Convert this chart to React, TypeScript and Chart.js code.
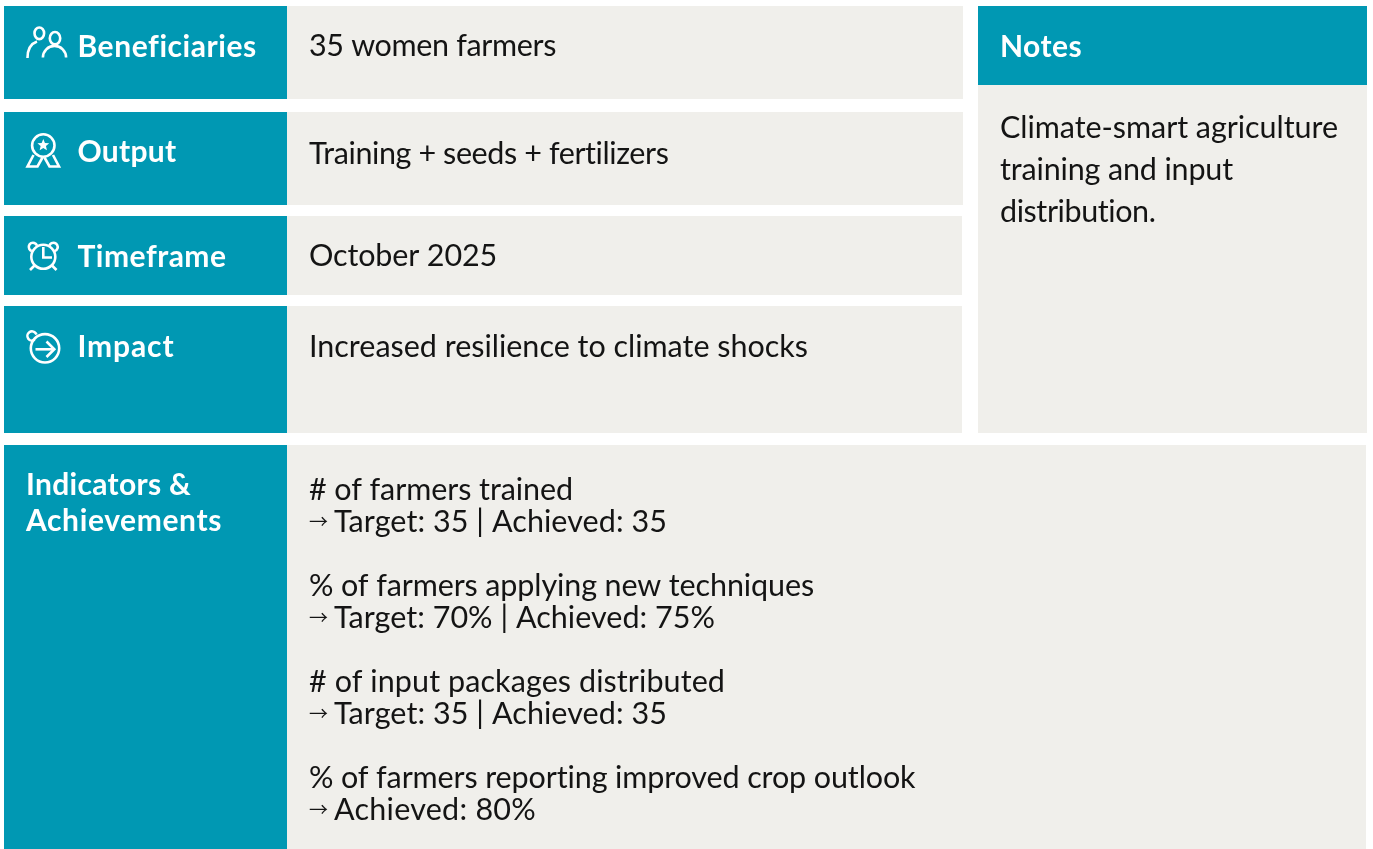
import React, { useEffect, useRef } from "react";
import { Chart, registerables } from "chart.js";

Chart.register(...registerables);

const rowLabels = ["Beneficiaries", "Output", "Timeframe", "Impact"];
const rowValues = [
  "35 women farmers",
  "Training + seeds + fertilizers",
  "October 2025",
  "Increased resilience to climate shocks",
];
const notesTitle = "Notes";
const notesLines = ["Climate-smart agriculture", "training and input", "distribution."];
const indicatorTitle = ["Indicators &", "Achievements"];
const indicatorLines = [
  "# of farmers trained",
  "→ Target: 35 | Achieved: 35",
  "% of farmers applying new techniques",
  "→ Target: 70% | Achieved: 75%",
  "# of input packages distributed",
  "→ Target: 35 | Achieved: 35",
  "% of farmers reporting improved crop outlook",
  "→ Achieved: 80%",
];

// Layout, in page units
const W = 1373;
const H = 849;
const TEAL = "#0098B3";
const GREY = "#F0EFEB";
const INK = "#141414";
const FONT = "Lato";
const HEAD_SIZE = 30;
const BODY_SIZE = 30.5;
const ARROW_SIZE = 19;
const ARROW_GAP = 25;

const panels: [number, number, number, number, string][] = [
  [4, 6, 287, 99, TEAL],
  [287, 6, 963, 99, GREY],
  [4, 112, 287, 205, TEAL],
  [287, 112, 963, 205, GREY],
  [4, 216, 287, 295, TEAL],
  [287, 216, 962, 295, GREY],
  [4, 306, 287, 433, TEAL],
  [287, 306, 962, 433, GREY],
  [978, 6, 1367, 85, TEAL],
  [978, 85, 1367, 433, GREY],
  [4, 445, 287, 849, TEAL],
  [287, 445, 1366, 849, GREY],
];

const labelPos: [number, number, number][] = [
  [77.5, 57, 179],
  [77.5, 162, 99],
  [77.5, 267, 149],
  [77.5, 357, 97],
];
const valuePos: [number, number, number][] = [
  [309, 56, 247],
  [309, 164, 360],
  [309, 266, 188],
  [309, 357, 499],
];
const notesPos: [number, number, number][] = [
  [1000, 138, 338],
  [1000, 180, 233],
  [1000, 222, 156],
];
const indicatorTitlePos: [number, number, number][] = [
  [26, 495, 165],
  [26, 531, 196],
];
const indicatorPos: [number, number, number][] = [
  [309, 500, 264],
  [309, 532, 358],
  [309, 596, 505],
  [309, 628, 406],
  [309, 692, 416],
  [309, 724, 358],
  [309, 788, 607],
  [309, 820, 227],
];

const tablePlugin = {
  id: "table",
  beforeDraw(chart: any) {
    const { ctx, scales } = chart;
    const X = (v: number) => scales.x.getPixelForValue(v);
    const Y = (v: number) => scales.y.getPixelForValue(v);

    panels.forEach(([x0, y0, x1, y1, c]) => {
      ctx.fillStyle = c;
      ctx.fillRect(X(x0), Y(y0), X(x1) - X(x0), Y(y1) - Y(y0));
    });

    const text = (t: string, p: [number, number, number], font: string, color: string) => {
      ctx.save();
      ctx.font = font;
      ctx.fillStyle = color;
      ctx.textBaseline = "alphabetic";
      ctx.letterSpacing = "0px";
      const w = ctx.measureText(t).width;
      ctx.letterSpacing = `${(p[2] - w) / t.length}px`;
      ctx.fillText(t, X(p[0]), Y(p[1]));
      ctx.restore();
    };
    const head = `700 ${HEAD_SIZE}px ${FONT}`;
    const body = `400 ${BODY_SIZE}px ${FONT}`;
    const indicator = (t: string, p: [number, number, number]) => {
      if (t.startsWith("→ ")) {
        ctx.save();
        ctx.font = `400 ${ARROW_SIZE}px "Noto Sans CJK SC"`;
        ctx.fillStyle = INK;
        ctx.textBaseline = "alphabetic";
        ctx.fillText("→", X(p[0]), Y(p[1] - 3));
        ctx.restore();
        text(t.slice(2), [p[0] + ARROW_GAP, p[1], p[2] - ARROW_GAP], body, INK);
      } else {
        text(t, p, body, INK);
      }
    };

    rowLabels.forEach((t, i) => text(t, labelPos[i], head, "#ffffff"));
    rowValues.forEach((t, i) => text(t, valuePos[i], body, INK));
    text(notesTitle, [1000, 57, 82], head, "#ffffff");
    notesLines.forEach((t, i) => text(t, notesPos[i], body, INK));
    indicatorTitle.forEach((t, i) => text(t, indicatorTitlePos[i], head, "#ffffff"));
    indicatorLines.forEach((t, i) => indicator(t, indicatorPos[i]));

    // icons
    ctx.save();
    ctx.strokeStyle = "#ffffff";
    ctx.fillStyle = "#ffffff";
    ctx.lineWidth = 2.6;
    ctx.lineCap = "butt";
    ctx.lineJoin = "miter";
    const circle = (x: number, y: number, r: number) => {
      ctx.beginPath();
      ctx.arc(X(x), Y(y), r, 0, Math.PI * 2);
      ctx.stroke();
    };
    const path = (pts: number[][], close = false) => {
      ctx.beginPath();
      pts.forEach(([x, y], i) => (i ? ctx.lineTo(X(x), Y(y)) : ctx.moveTo(X(x), Y(y))));
      if (close) ctx.closePath();
      ctx.stroke();
    };
    // Beneficiaries
    ctx.beginPath();
    ctx.ellipse(X(39.3), Y(33.3), 4.8, 5.8, 0, 0, Math.PI * 2);
    ctx.stroke();
    ctx.beginPath();
    ctx.ellipse(X(55), Y(38.2), 5.2, 6.2, 0, 0, Math.PI * 2);
    ctx.stroke();
    ctx.beginPath();
    ctx.arc(X(54.5), Y(57.5), 11.6, Math.PI, 0);
    ctx.stroke();
    ctx.beginPath();
    ctx.moveTo(X(27.5), Y(58));
    ctx.bezierCurveTo(X(27.5), Y(50), X(30), Y(44), X(37), Y(41.5));
    ctx.stroke();
    // Output
    circle(43.3, 145.5, 11.2);
    ctx.beginPath();
    for (let i = 0; i < 10; i++) {
      const r = i % 2 ? 2.8 : 6.2;
      const a = -Math.PI / 2 + (i * Math.PI) / 5;
      const px = X(43.3) + r * Math.cos(a);
      const py = Y(145.2) + r * Math.sin(a);
      if (i) ctx.lineTo(px, py);
      else ctx.moveTo(px, py);
    }
    ctx.closePath();
    ctx.fill();
    path([[33.5, 155], [27.5, 166.5], [37.5, 166.5], [42.5, 157.5]]);
    path([[53, 155], [59, 166.5], [49.5, 166.5], [44.5, 157.5]]);
    // Timeframe
    circle(43.3, 256.8, 12);
    path([[43.3, 247], [43.3, 257.5], [52, 257.5]]);
    ctx.beginPath();
    ctx.arc(X(33), Y(247), 4.2, Math.PI * 0.6, Math.PI * 1.9);
    ctx.stroke();
    ctx.beginPath();
    ctx.arc(X(53.5), Y(247), 4.2, Math.PI * 1.1, Math.PI * 0.4);
    ctx.stroke();
    path([[30, 270], [34.5, 265.5]]);
    path([[56.5, 270], [52, 265.5]]);
    // Impact
    circle(45, 348.3, 14.2);
    path([[35.5, 349.3], [54, 349.3]]);
    path([[46.5, 341.5], [54.3, 349.3], [46.5, 357]]);
    ctx.beginPath();
    ctx.arc(X(32), Y(336), 4.6, Math.PI * 0.3, Math.PI * 1.9);
    ctx.stroke();
    ctx.restore();
  },
};

export default function App() {
  const ref = useRef<HTMLCanvasElement>(null);
  useEffect(() => {
    document.body.style.margin = "0";
    document.body.style.overflow = "hidden";
    const chart = new Chart(ref.current!, {
      type: "scatter",
      data: { datasets: [{ data: [] }] },
      options: {
        animation: false,
        responsive: false,
        layout: { padding: 0 },
        plugins: { legend: { display: false }, tooltip: { enabled: false } },
        scales: {
          x: { type: "linear", display: false, min: 0, max: W },
          y: { type: "linear", display: false, min: 0, max: H, reverse: true },
        },
      },
      plugins: [tablePlugin],
    } as any);
    return () => chart.destroy();
  }, []);
  return <canvas ref={ref} width={W} height={H} style={{ display: "block", width: W, height: H }} />;
}
